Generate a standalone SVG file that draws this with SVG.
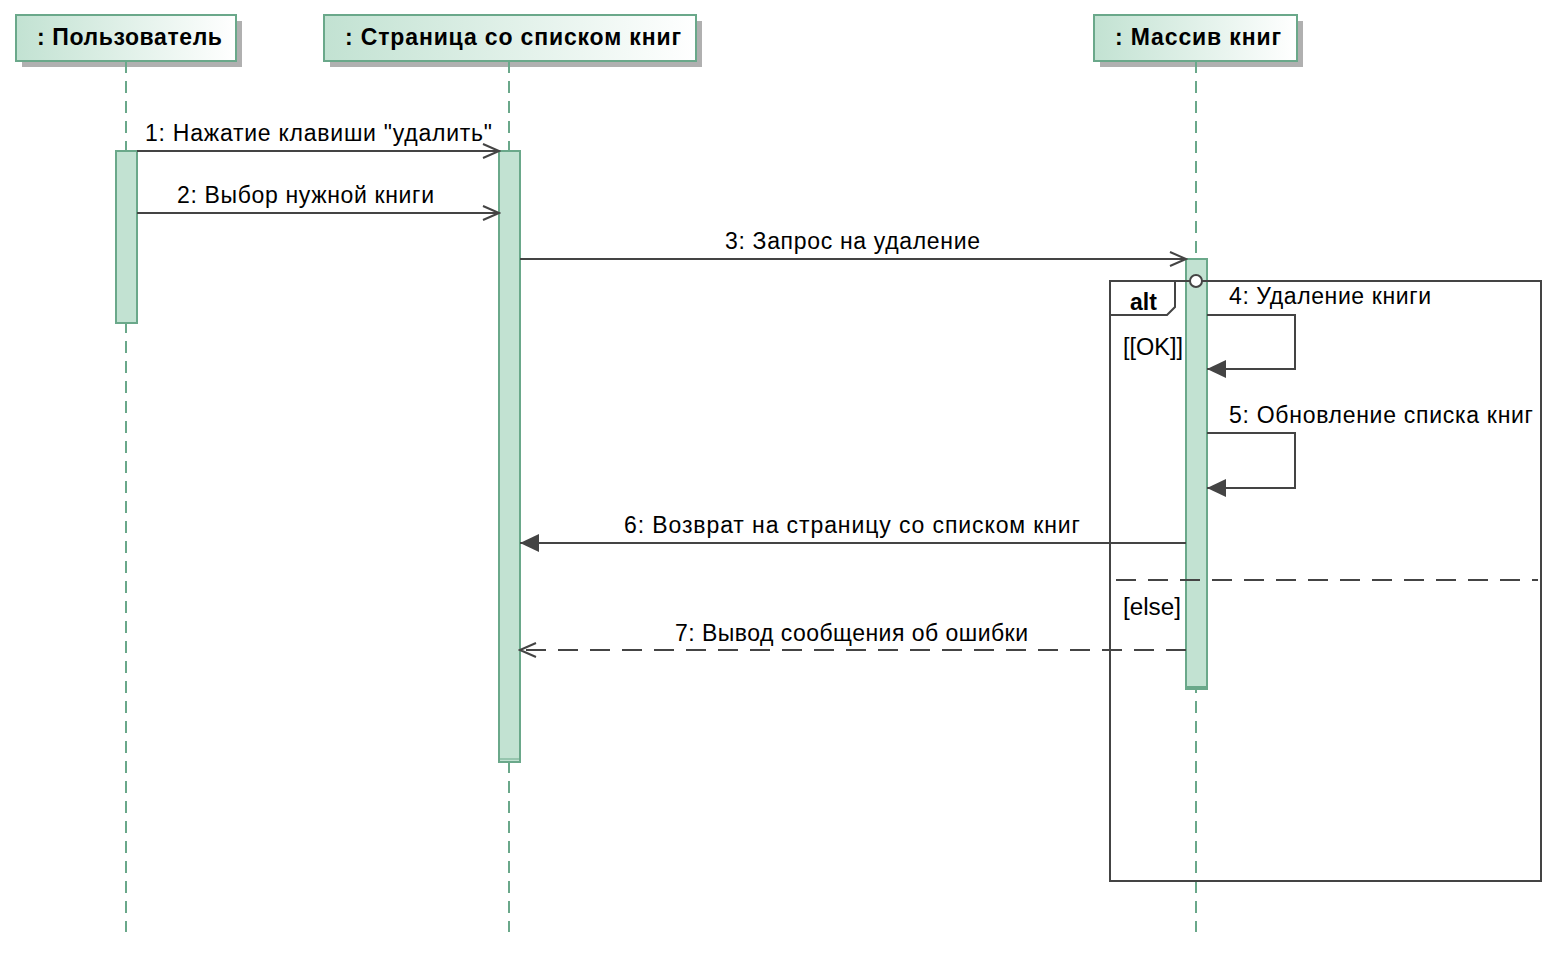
<svg xmlns="http://www.w3.org/2000/svg" width="1567" height="961" viewBox="0 0 1567 961">
<defs>
<linearGradient id="hg" x1="0" y1="0" x2="1" y2="0">
<stop offset="0" stop-color="#c2e2d2"/>
<stop offset="1" stop-color="#ffffff"/>
</linearGradient>
<marker id="open" viewBox="0 0 20 20" refX="18" refY="10" markerWidth="20" markerHeight="20" markerUnits="userSpaceOnUse" orient="auto">
<path d="M2,3 L18,10 L2,17" fill="none" stroke="#444" stroke-width="2"/>
</marker>
<marker id="filled" viewBox="0 0 20 20" refX="19" refY="10" markerWidth="20" markerHeight="20" markerUnits="userSpaceOnUse" orient="auto">
<path d="M0,1 L19,10 L0,19 Z" fill="#444"/>
</marker>
</defs>
<style>
.hdr{fill:url(#hg);stroke:#6aa88a;stroke-width:2}
.shd{fill:#b0b0b0}
.ht{font-family:"Liberation Sans",Arial,sans-serif;font-weight:bold;font-size:23px;fill:#000}
.life{stroke:#6aa88a;stroke-width:2;stroke-dasharray:12,8;fill:none}
.act{fill:#c2e2d2;stroke:#6aa88a;stroke-width:2}
.msg{stroke:#444;stroke-width:2;fill:none}
.dash{stroke-dasharray:20,12}
.lbl{font-family:"Liberation Sans",Arial,sans-serif;font-size:23px;fill:#000}
.frm{stroke:#444;stroke-width:2;fill:none}
</style>
<g id="user">
<rect class="shd" x="22" y="21" width="220" height="46"/>
<rect class="hdr" x="16" y="15" width="220" height="46"/>
<text class="ht" x="37" y="45" textLength="185" lengthAdjust="spacing">: Пользователь</text>
<line class="life" x1="126" y1="61" x2="126" y2="932"/>
<rect class="act" x="116" y="151" width="21" height="172"/>
</g>
<g id="page">
<rect class="shd" x="330" y="21" width="372" height="46"/>
<rect class="hdr" x="324" y="15" width="372" height="46"/>
<text class="ht" x="345" y="45" textLength="336" lengthAdjust="spacing">: Страница со списком книг</text>
<line class="life" x1="509" y1="61" x2="509" y2="932"/>
<rect class="act" x="499" y="151" width="21" height="611"/>
<line x1="499" y1="759" x2="520" y2="759" stroke="#6aa88a" stroke-width="1"/>
</g>
<g id="massiv">
<rect class="shd" x="1100" y="21" width="203" height="46"/>
<rect class="hdr" x="1094" y="15" width="203" height="46"/>
<text class="ht" x="1115" y="45" textLength="166" lengthAdjust="spacing">: Массив книг</text>
<line class="life" x1="1196" y1="61" x2="1196" y2="932"/>
<rect class="act" x="1186" y="259" width="21" height="430"/>
<line x1="1186" y1="687" x2="1207" y2="687" stroke="#6aa88a" stroke-width="2"/>
</g>
<g id="alt">
<rect class="frm" x="1110" y="281" width="431" height="600"/>
<path class="frm" d="M1110,315 L1167,315 L1175,307 L1175,281"/>
<text class="ht" x="1130" y="310">alt</text>
<text class="lbl" x="1123" y="355" textLength="60" lengthAdjust="spacingAndGlyphs">[[OK]]</text>
<line class="frm dash" x1="1116" y1="580" x2="1538" y2="580"/>
<text class="lbl" x="1123" y="615" textLength="58" lengthAdjust="spacingAndGlyphs">[else]</text>
<circle cx="1196" cy="281" r="6" fill="#fff" stroke="#444" stroke-width="2"/>
</g>
<g id="connectors">
<line class="msg" x1="137" y1="151" x2="499" y2="151" marker-end="url(#open)"/>
<text class="lbl" x="145" y="141" textLength="347" lengthAdjust="spacing">1: Нажатие клавиши "удалить"</text>
<line class="msg" x1="137" y1="213" x2="499" y2="213" marker-end="url(#open)"/>
<text class="lbl" x="177" y="203" textLength="257" lengthAdjust="spacing">2: Выбор нужной книги</text>
<line class="msg" x1="520" y1="259" x2="1186" y2="259" marker-end="url(#open)"/>
<text class="lbl" x="725" y="249" textLength="255" lengthAdjust="spacing">3: Запрос на удаление</text>
<path class="msg" d="M1207,315 L1295,315 L1295,369 L1207,369" marker-end="url(#filled)"/>
<text class="lbl" x="1229" y="304" textLength="202" lengthAdjust="spacing">4: Удаление книги</text>
<path class="msg" d="M1207,433 L1295,433 L1295,488 L1207,488" marker-end="url(#filled)"/>
<text class="lbl" x="1229" y="423" textLength="304" lengthAdjust="spacing">5: Обновление списка книг</text>
<line class="msg" x1="1186" y1="543" x2="520" y2="543" marker-end="url(#filled)"/>
<text class="lbl" x="624" y="533" textLength="456" lengthAdjust="spacing">6: Возврат на страницу со списком книг</text>
<line class="msg dash" x1="1186" y1="650" x2="520" y2="650" marker-end="url(#open)"/>
<text class="lbl" x="675" y="641" textLength="353" lengthAdjust="spacing">7: Вывод сообщения об ошибки</text>
</g>
</svg>
